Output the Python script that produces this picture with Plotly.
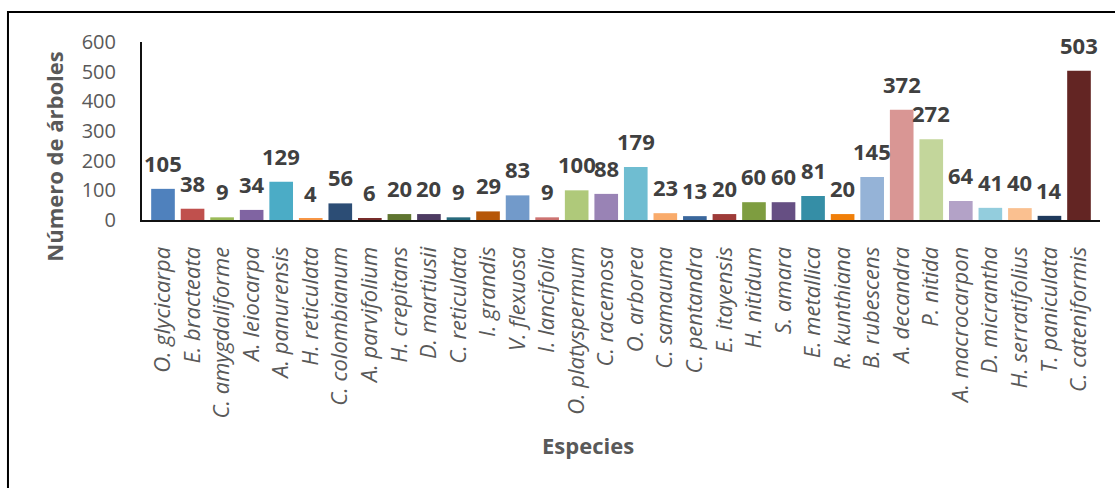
import plotly.graph_objects as go

species = ["O. glycicarpa", "E. bracteata", "C. amygdaliforme", "A. leiocarpa", "A. panurensis",
           "H. reticulata", "C. colombianum", "A. parvifolium", "H. crepitans", "D. martiusii",
           "C. reticulata", "I. grandis", "V. flexuosa", "I. lancifolia", "O. platyspermum",
           "C. racemosa", "O. arborea", "C. samauma", "C. pentandra", "E. itayensis",
           "H. nitidum", "S. amara", "E. metallica", "R. kunthiana", "B. rubescens",
           "A. decandra", "P. nitida", "A. macrocarpon", "D. micrantha", "H. serratifolius",
           "T. paniculata", "C. cateniformis"]
counts = [105, 38, 9, 34, 129, 4, 56, 6, 20, 20, 9, 29, 83, 9, 100, 88, 179, 23, 13, 20,
          60, 60, 81, 20, 145, 372, 272, 64, 41, 40, 14, 503]
colors = ["#4F81BD", "#C0504D", "#9BBB59", "#8064A2", "#4BACC6", "#F79646",
          "#2C4D75", "#772C2A", "#5F7530", "#4D3B62", "#276A7C", "#B65708",
          "#729ACA", "#CD7371", "#AFC97A", "#9983B5", "#6FBDD1", "#F9AB6B",
          "#3A679C", "#9E3B38", "#7E9D40", "#664F83", "#358EA6", "#F07F09",
          "#95B3D7", "#D99694", "#C3D69B", "#B3A2C7", "#93CDDD", "#FAC090",
          "#1F3A5C", "#632523"]
y_ticks = [0, 100, 200, 300, 400, 500, 600]

FONT = "Open Sans"

fig = go.Figure(go.Bar(
    x=species, y=counts, marker=dict(color=colors, line=dict(width=0)),
    hoverinfo="x+y", showlegend=False,
))

annotations = []
for s, v in zip(species, counts):
    annotations.append(dict(
        x=s, y=v, xref="x", yref="y", text=str(v), showarrow=False,
        yanchor="bottom", yshift=9,
        font=dict(family=FONT, size=22, color="#404040", weight="bold"),
    ))

annotations.append(dict(
    x=-0.092, y=0.355, xref="paper", yref="paper", text="<b>Número de árboles</b>",
    textangle=-90, showarrow=False, xanchor="center", yanchor="middle",
    font=dict(family=FONT, size=22, color="#595959"),
))
annotations.append(dict(
    x=0.466, y=-1.264, xref="paper", yref="paper", text="<b>Especies</b>",
    showarrow=False, xanchor="center", yanchor="middle",
    font=dict(family=FONT, size=22, color="#595959"),
))

fig.update_layout(
    width=1115, height=488,
    margin=dict(l=142, r=15, t=42, b=268, autoexpand=False),
    paper_bgcolor="white", plot_bgcolor="white",
    bargap=0.2,
    annotations=annotations,
    shapes=[dict(type="rect", xref="paper", yref="paper",
                 x0=-0.1399, x1=1.1, y0=-1.7, y1=1.1685,
                 line=dict(color="black", width=2), fillcolor="rgba(0,0,0,0)", layer="below")],
)
fig.update_xaxes(
    showline=True, linecolor="#111111", linewidth=2, showgrid=False, ticks="",
    tickangle=-90, ticklabelstandoff=16,
    tickfont=dict(family=FONT, size=22, color="#595959", style="italic"),
)
fig.update_yaxes(
    range=[0, 600], tickvals=y_ticks, showline=True, linecolor="#111111", linewidth=2,
    showgrid=False, zeroline=False, ticks="", ticklabelstandoff=20,
    tickfont=dict(family=FONT, size=20, color="#595959"),
)

fig.write_html("out.html", config={"displayModeBar": False},
               post_script="document.body.style.margin='0';document.body.style.overflow='hidden';")
